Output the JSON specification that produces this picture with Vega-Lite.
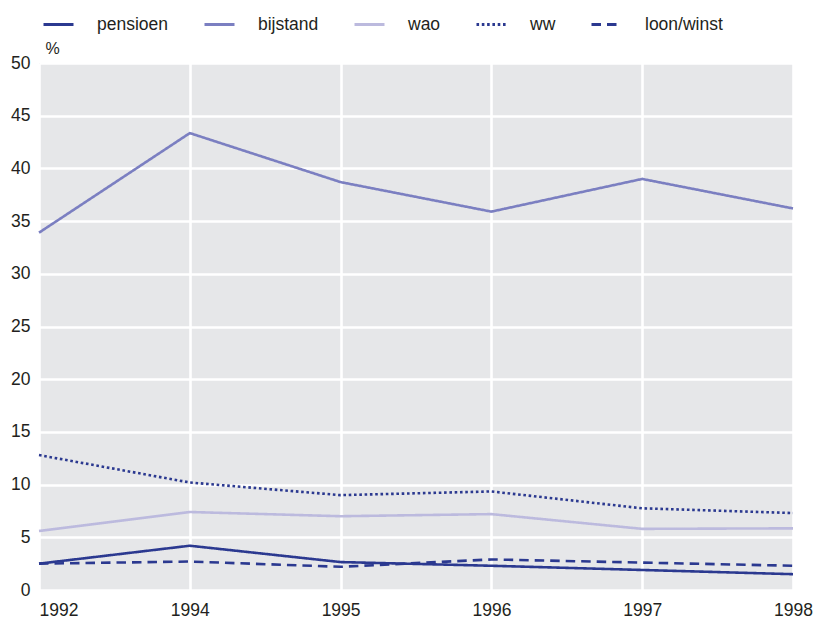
{
  "$schema": "https://vega.github.io/schema/vega-lite/v6.json",
  "autosize": {"type": "none"},
  "padding": {"left": 39, "top": 63, "right": 20, "bottom": 29},
  "width": 754,
  "height": 527,
  "background": "#ffffff",
  "config": {
    "view": {"fill": "#e6e7e9", "stroke": null},
    "font": "Liberation Sans",
    "axis": {"labelFont": "Liberation Sans", "titleFont": "Liberation Sans", "labelColor": "#231f20", "titleColor": "#231f20"},
    "legend": {"labelFont": "Liberation Sans"}
  },
  "data": {
    "values": [
      {"year": "1992", "series": "pensioen", "value": 2.5},
      {"year": "1994", "series": "pensioen", "value": 4.2},
      {"year": "1995", "series": "pensioen", "value": 2.65},
      {"year": "1996", "series": "pensioen", "value": 2.3},
      {"year": "1997", "series": "pensioen", "value": 1.9},
      {"year": "1998", "series": "pensioen", "value": 1.5},
      {"year": "1992", "series": "bijstand", "value": 33.9},
      {"year": "1994", "series": "bijstand", "value": 43.35},
      {"year": "1995", "series": "bijstand", "value": 38.7},
      {"year": "1996", "series": "bijstand", "value": 35.9},
      {"year": "1997", "series": "bijstand", "value": 39.0},
      {"year": "1998", "series": "bijstand", "value": 36.2},
      {"year": "1992", "series": "wao", "value": 5.6},
      {"year": "1994", "series": "wao", "value": 7.4},
      {"year": "1995", "series": "wao", "value": 7.0},
      {"year": "1996", "series": "wao", "value": 7.2},
      {"year": "1997", "series": "wao", "value": 5.8},
      {"year": "1998", "series": "wao", "value": 5.85},
      {"year": "1992", "series": "ww", "value": 12.8},
      {"year": "1994", "series": "ww", "value": 10.2},
      {"year": "1995", "series": "ww", "value": 9.0},
      {"year": "1996", "series": "ww", "value": 9.35},
      {"year": "1997", "series": "ww", "value": 7.75},
      {"year": "1998", "series": "ww", "value": 7.3},
      {"year": "1992", "series": "loon/winst", "value": 2.5},
      {"year": "1994", "series": "loon/winst", "value": 2.7},
      {"year": "1995", "series": "loon/winst", "value": 2.2},
      {"year": "1996", "series": "loon/winst", "value": 2.9},
      {"year": "1997", "series": "loon/winst", "value": 2.6},
      {"year": "1998", "series": "loon/winst", "value": 2.3}
    ]
  },
  "mark": {"type": "line", "strokeWidth": 2.6, "strokeCap": "butt", "strokeJoin": "miter"},
  "encoding": {
    "x": {
      "field": "year", "type": "ordinal",
      "scale": {"type": "point", "padding": 0},
      "axis": {
        "title": null, "labelAngle": 0, "domain": false, "ticks": false,
        "grid": true, "gridColor": "#ffffff", "gridWidth": 2.6, "gridOpacity": 1,
        "labelFontSize": 17.5, "labelPadding": 11, "labelBaseline": "top",
        "labelAlign": {"expr": "datum.label == '1992' ? 'left' : 'center'"}
      }
    },
    "y": {
      "field": "value", "type": "quantitative",
      "scale": {"domain": [0, 50], "nice": false},
      "axis": {
        "values": [0, 5, 10, 15, 20, 25, 30, 35, 40, 45, 50],
        "title": "%", "titleAngle": 0, "titleAlign": "left", "titleBaseline": "bottom",
        "titleX": 6, "titleY": -7, "titleFontSize": 16, "titleFontWeight": "normal",
        "domain": false, "ticks": false, "labelPadding": 9, "labelFontSize": 17.5,
        "grid": true, "gridColor": "#ffffff", "gridWidth": 2.6, "gridOpacity": 1
      }
    },
    "color": {
      "field": "series", "type": "nominal",
      "scale": {
        "domain": ["pensioen", "bijstand", "wao", "ww", "loon/winst"],
        "range": ["#2b3990", "#7b7fc1", "#bcbade", "#2b3990", "#2b3990"]
      },
      "legend": {
        "title": null, "orient": "none", "legendX": 3, "legendY": -55,
        "direction": "horizontal", "symbolType": "stroke", "symbolSize": 900,
        "symbolStrokeWidth": 3, "labelFontSize": 17.5, "labelOffset": 22,
        "columnPadding": 29, "padding": 0, "labelColor": "#231f20"
      }
    },
    "strokeDash": {
      "field": "series", "type": "nominal",
      "scale": {
        "domain": ["pensioen", "bijstand", "wao", "ww", "loon/winst"],
        "range": [[1, 0], [1, 0], [1, 0], [2.6, 2.7], [9.5, 6]]
      },
      "legend": {
        "title": null, "orient": "none", "legendX": 3, "legendY": -55,
        "direction": "horizontal", "symbolType": "stroke", "symbolSize": 900,
        "symbolStrokeWidth": 3, "labelFontSize": 17.5, "labelOffset": 22,
        "columnPadding": 29, "padding": 0, "labelColor": "#231f20"
      }
    }
  }
}
